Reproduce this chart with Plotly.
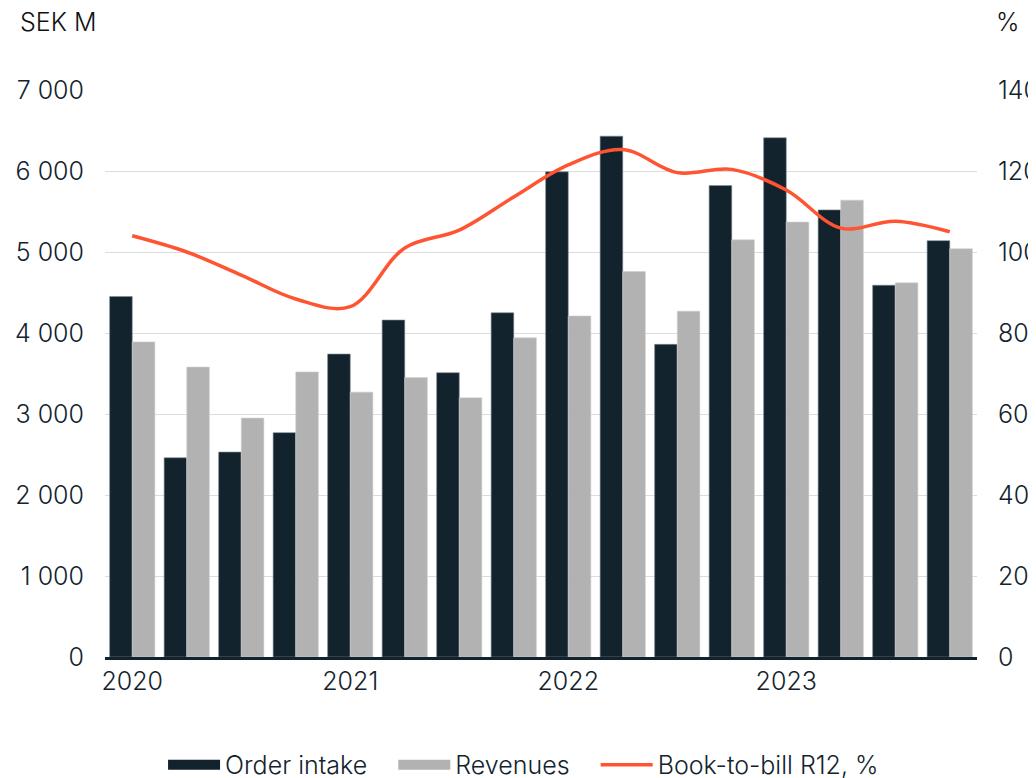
import plotly.graph_objects as go

quarters = ["Q1 2020", "Q2 2020", "Q3 2020", "Q4 2020",
            "Q1 2021", "Q2 2021", "Q3 2021", "Q4 2021",
            "Q1 2022", "Q2 2022", "Q3 2022", "Q4 2022",
            "Q1 2023", "Q2 2023", "Q3 2023", "Q4 2023"]
order_intake = [4450, 2460, 2530, 2770, 3740, 4160, 3510, 4250,
                5990, 6430, 3860, 5820, 6410, 5520, 4590, 5140]
revenues = [3890, 3580, 2950, 3520, 3270, 3450, 3200, 3940,
            4210, 4760, 4270, 5150, 5370, 5640, 4620, 5040]
book_to_bill = [104, 100, 94.3, 88.4, 86.5, 101, 105.4, 113.6,
                121.5, 125.3, 119.6, 120.4, 115.3, 105.9, 107.6, 105]

year_ticks = ["Q1 2020", "Q1 2021", "Q1 2022", "Q1 2023"]
year_labels = ["2020", "2021", "2022", "2023"]
left_ticks = [0, 1000, 2000, 3000, 4000, 5000, 6000, 7000]
left_labels = ["0", "1 000", "2 000", "3 000", "4 000", "5 000", "6 000", "7 000"]
right_ticks = [0, 20, 40, 60, 80, 100, 120, 140]

navy = "#12232E"
grey = "#B2B2B2"
orange = "#FF5432"
font = "Inter, Roboto, sans-serif"
fsize = 25
pad = "\u00a0" * 3  # extra room between legend entries

fig = go.Figure()

fig.add_trace(go.Bar(x=quarters, y=order_intake, name="Order intake",
                     marker=dict(color=navy, line=dict(color="#7f8b94", width=0.6)),
                     showlegend=False))
fig.add_trace(go.Bar(x=quarters, y=revenues, name="Revenues",
                     marker=dict(color=grey, line=dict(color="#d0d0d0", width=0.6)),
                     showlegend=False))
fig.add_trace(go.Scatter(x=quarters, y=book_to_bill, name="Book-to-bill R12, %",
                         mode="lines", yaxis="y2", showlegend=False,
                         line=dict(color=orange, width=3.5, shape="spline", smoothing=1)))

# legend proxies (wide rectangles like the original)
fig.add_trace(go.Scatter(x=[None], y=[None], mode="lines", name="Order intake" + pad,
                         line=dict(color=navy, width=10)))
fig.add_trace(go.Scatter(x=[None], y=[None], mode="lines", name="Revenues" + pad,
                         line=dict(color=grey, width=10)))
fig.add_trace(go.Scatter(x=[None], y=[None], mode="lines", name="Book-to-bill R12, %",
                         line=dict(color=orange, width=3.5)))

# page body has an 8px margin, so the figure is sized/offset for it
fig.update_layout(
    width=1028, height=770,
    margin=dict(l=97, r=59, t=82, b=121, autoexpand=False),
    paper_bgcolor="white", plot_bgcolor="white",
    font=dict(family=font, size=fsize, color=navy, weight=300),
    barmode="group", bargap=0.17, bargroupgap=0,
    xaxis=dict(tickmode="array", tickvals=year_ticks, ticktext=year_labels,
               showgrid=False, showline=True, linecolor=navy, linewidth=3,
               ticks="", tickfont=dict(size=fsize, color=navy, weight=300)),
    yaxis=dict(range=[0, 7000], tickvals=left_ticks, ticktext=left_labels,
               showgrid=True, gridcolor="#DCDCDC", gridwidth=1,
               zeroline=False, ticks="", ticklabelstandoff=20,
               tickfont=dict(size=fsize, color=navy, weight=300)),
    yaxis2=dict(range=[0, 140], tickvals=right_ticks, overlaying="y", side="right",
                showgrid=False, zeroline=False, ticks="", ticklabelstandoff=20,
                tickfont=dict(size=fsize, color=navy, weight=300)),
    legend=dict(orientation="h", x=0.48, xanchor="center", yref="container",
                y=0.017, yanchor="middle", itemwidth=52,
                font=dict(size=fsize, color=navy, weight=300), traceorder="normal"),
    annotations=[
        dict(text="SEK M", xref="paper", yref="paper", x=-0.1, y=1.12,
             xanchor="left", yanchor="middle", showarrow=False,
             font=dict(size=fsize, color="#111111", weight=300)),
        dict(text="%", xref="paper", yref="paper", x=1.02, y=1.12,
             xanchor="left", yanchor="middle", showarrow=False,
             font=dict(size=fsize, color="#111111", weight=300)),
    ],
)

fig.write_html("out.html")
